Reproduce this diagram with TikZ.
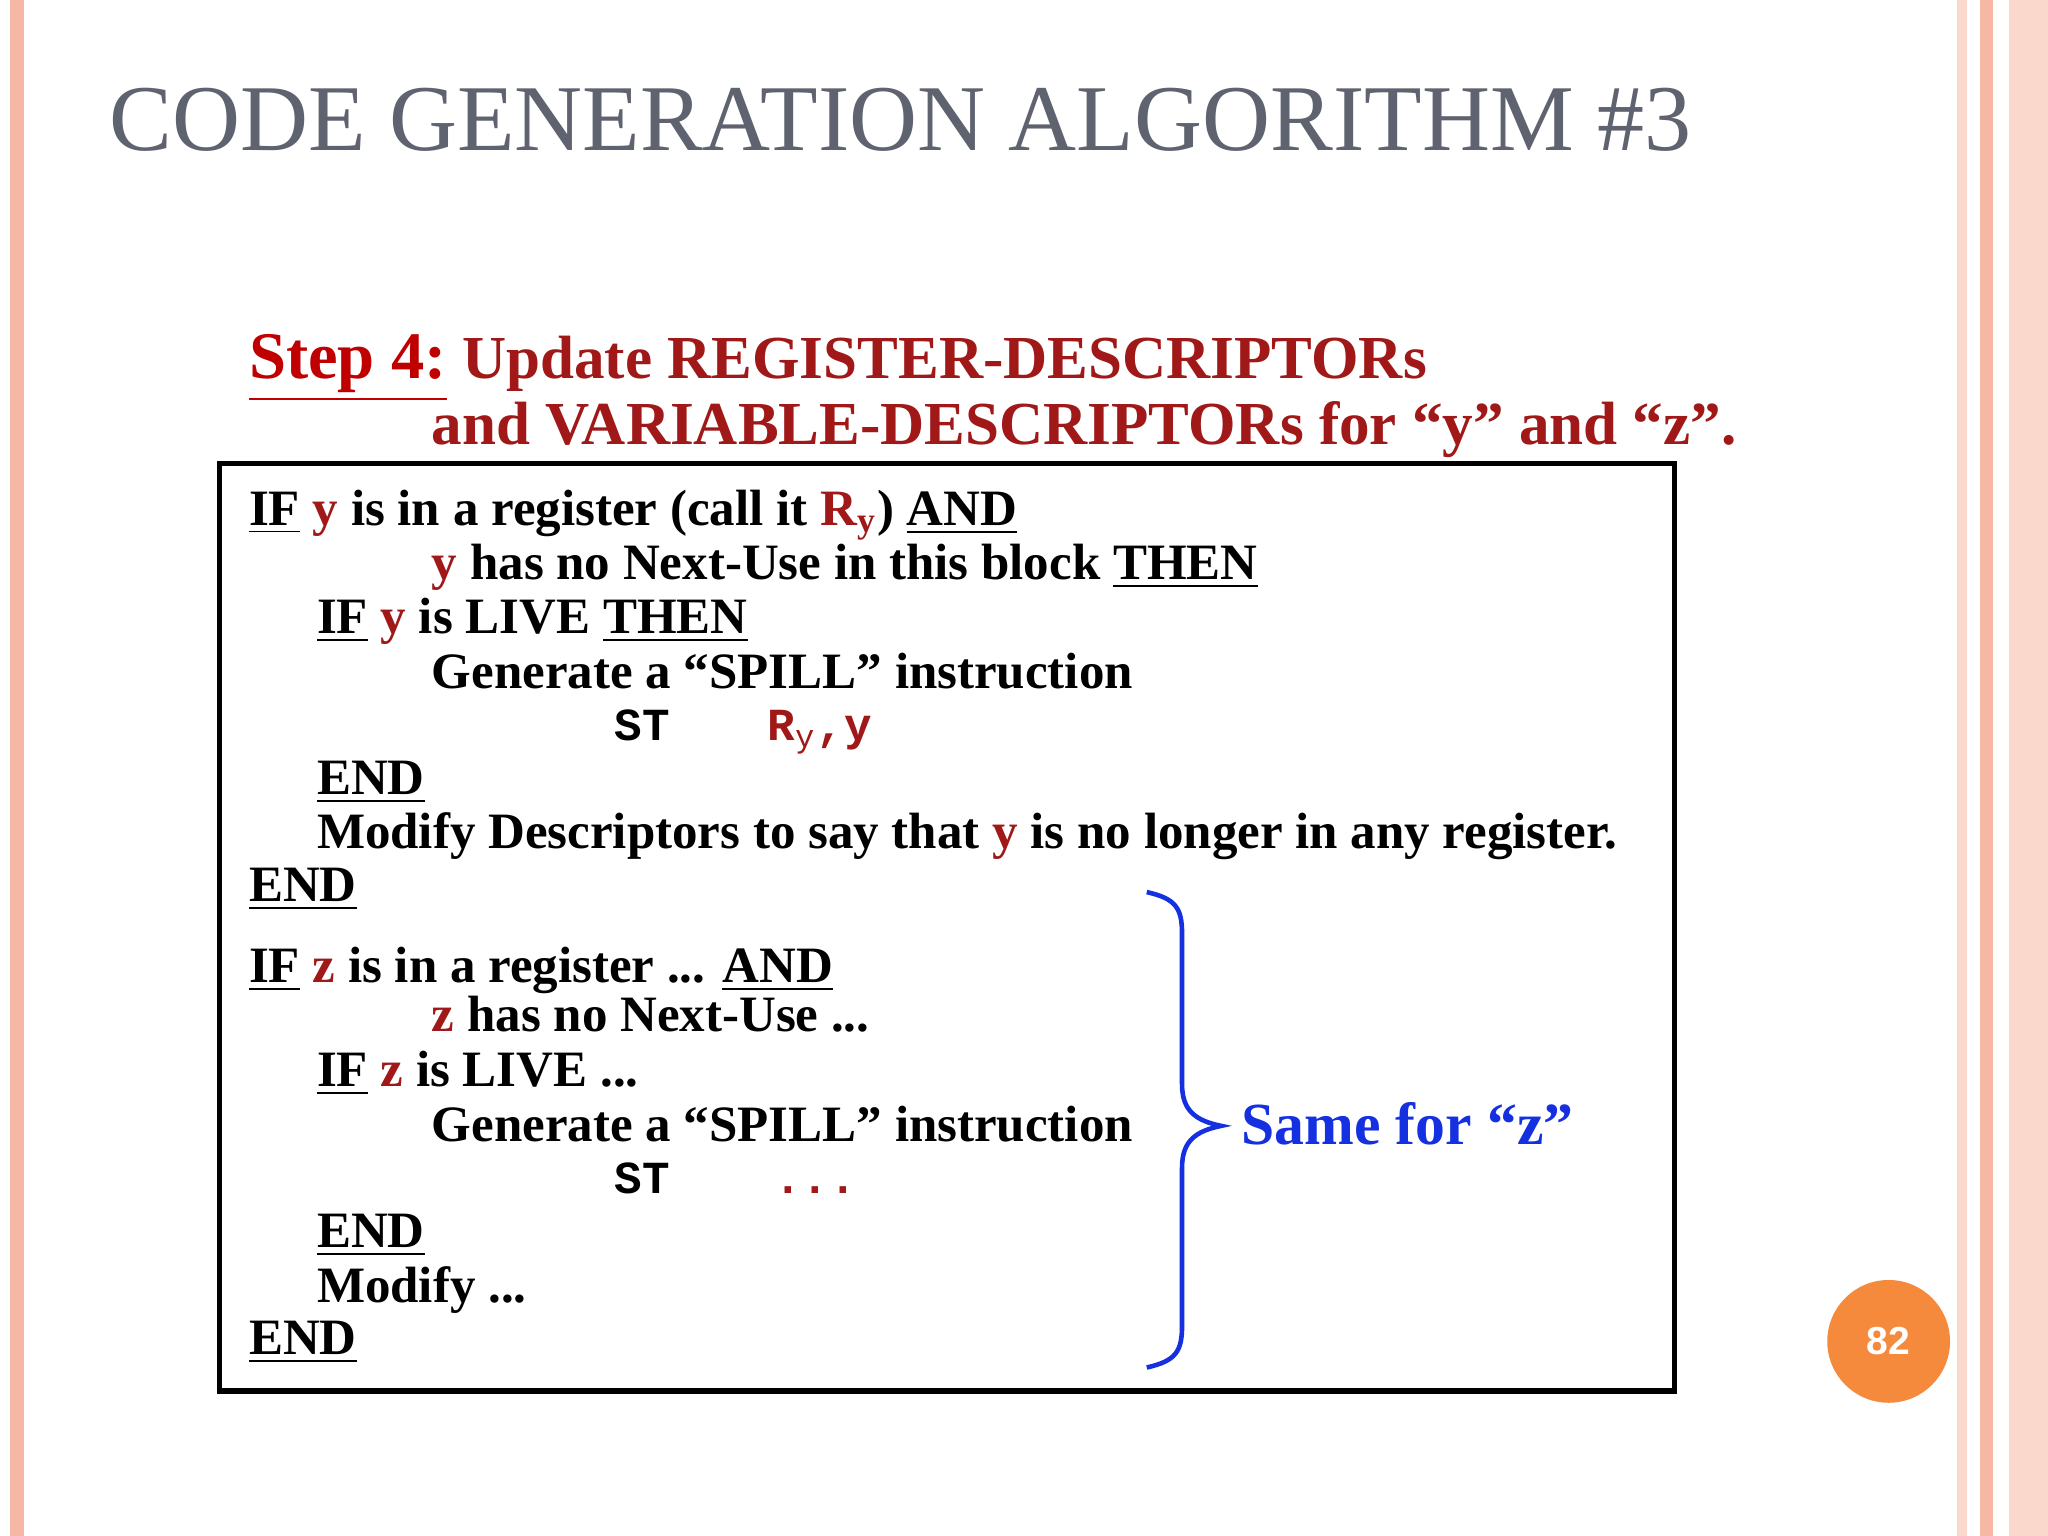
\documentclass[tikz,border=0pt]{standalone}
\usepackage{fontspec}
\setmainfont{Liberation Serif}
\setmonofont{Liberation Mono}
\newfontfamily\sansf{Liberation Sans}
\definecolor{ttl}{HTML}{5F6370}
\definecolor{dred}{HTML}{A01818}
\definecolor{sred}{HTML}{C00000}
\definecolor{blu}{HTML}{1530E0}
\definecolor{stripe}{HTML}{F6B8A4}
\definecolor{stripel}{HTML}{FBD8CC}
\definecolor{org}{HTML}{F58A3C}
\newcommand{\R}[1]{\textcolor{dred}{#1}}
\newcommand{\U}[1]{\underline{#1}}
\begin{document}
\begin{tikzpicture}[x=0.01cm,y=-0.01cm,
  ln/.style={anchor=base west,inner sep=0pt,font=\fontsize{11.1}{12}\selectfont\bfseries}]
\useasboundingbox (0,0) rectangle (1568,1176);
\fill[white] (0,0) rectangle (1568,1176);
\fill[stripe] (8,0) rectangle (18,1176);
\fill[stripel] (1498,0) rectangle (1506,1176);
\fill[stripe] (1516,0) rectangle (1526,1176);
\fill[stripel] (1538,0) rectangle (1568,1176);
\node[anchor=base west,inner sep=0pt,text=ttl,font=\fontsize{20.5}{24}\selectfont] (title) at (83,115) {CODE GENERATION ALGORITHM \#3};
\node[anchor=base west,inner sep=0pt,font=\fontsize{13.3}{15}\selectfont\bfseries] (s1) at (190,290) {\textcolor{sred}{\fontsize{14.5}{16}\selectfont\U{Step 4:}} \textcolor{dred}{Update REGISTER-DESCRIPTORs}};
\node[anchor=base west,inner sep=0pt,font=\fontsize{13.3}{15}\selectfont\bfseries,text=dred] (s2) at (330,340) {and VARIABLE-DESCRIPTORs for “y” and “z”.};
\draw[line width=1.2pt] (168,355) rectangle (1282,1065);
\node[ln] (l1) at (190,402) {\U{IF} \R{y} is in a register (call it \R{R$_{\mathbf y}$}) \U{AND}};
\node[ln] (l2) at (330,444) {\R{y} has no Next-Use in this block \U{THEN}};
\node[ln] (l3) at (242,485) {\U{IF} \R{y} is LIVE \U{THEN}};
\node[ln] (l4) at (330,527) {Generate a “SPILL” instruction};
\node[ln,font=\fontsize{10}{12}\selectfont\ttfamily\bfseries] (l5) at (470,567) {ST};
\node[ln,font=\fontsize{10}{12}\selectfont\ttfamily\bfseries,text=dred] (l5b) at (587,567) {R$_{\mathtt y}$,y};
\node[ln] (l6) at (242,608) {\U{END}};
\node[ln] (l7) at (242,650) {Modify Descriptors to say that \R{y} is no longer in any register.};
\node[ln] (l8) at (190,690) {\U{END}};
\node[ln] (m1) at (190,752) {\U{IF} \R{z} is in a register ... \U{AND}};
\node[ln] (m2) at (330,790) {\R{z} has no Next-Use ...};
\node[ln] (m3) at (242,832) {\U{IF} \R{z} is LIVE ...};
\node[ln] (m4) at (330,874) {Generate a “SPILL” instruction};
\node[ln,font=\fontsize{10}{12}\selectfont\ttfamily\bfseries] (m5) at (470,914) {ST};
\node[ln,font=\fontsize{10}{12}\selectfont\ttfamily\bfseries,text=dred] (m5b) at (592,914) {...};
\draw[blu,line width=1pt] (878,683) .. controls (900,688) and (905,695) .. (905,715)
  -- (905,830) .. controls (905,850) and (915,858) .. (935,862)
  .. controls (915,866) and (905,874) .. (905,894)
  -- (905,1015) .. controls (905,1035) and (900,1042) .. (878,1047);
\node[ln] (m6) at (242,955) {\U{END}};
\node[ln] (m7) at (242,997) {Modify ...};
\node[ln] (m8) at (190,1037) {\U{END}};
\node[anchor=base west,inner sep=0pt,text=blu,font=\fontsize{13}{15}\selectfont\bfseries] (same) at (950,876) {Same for “z”};
\fill[org] (1446,1027) circle (47);
\node[text=white,font=\sansf\bfseries\fontsize{8.5}{10}\selectfont] (pg) at (1446,1027) {82};
\end{tikzpicture}
\end{document}
